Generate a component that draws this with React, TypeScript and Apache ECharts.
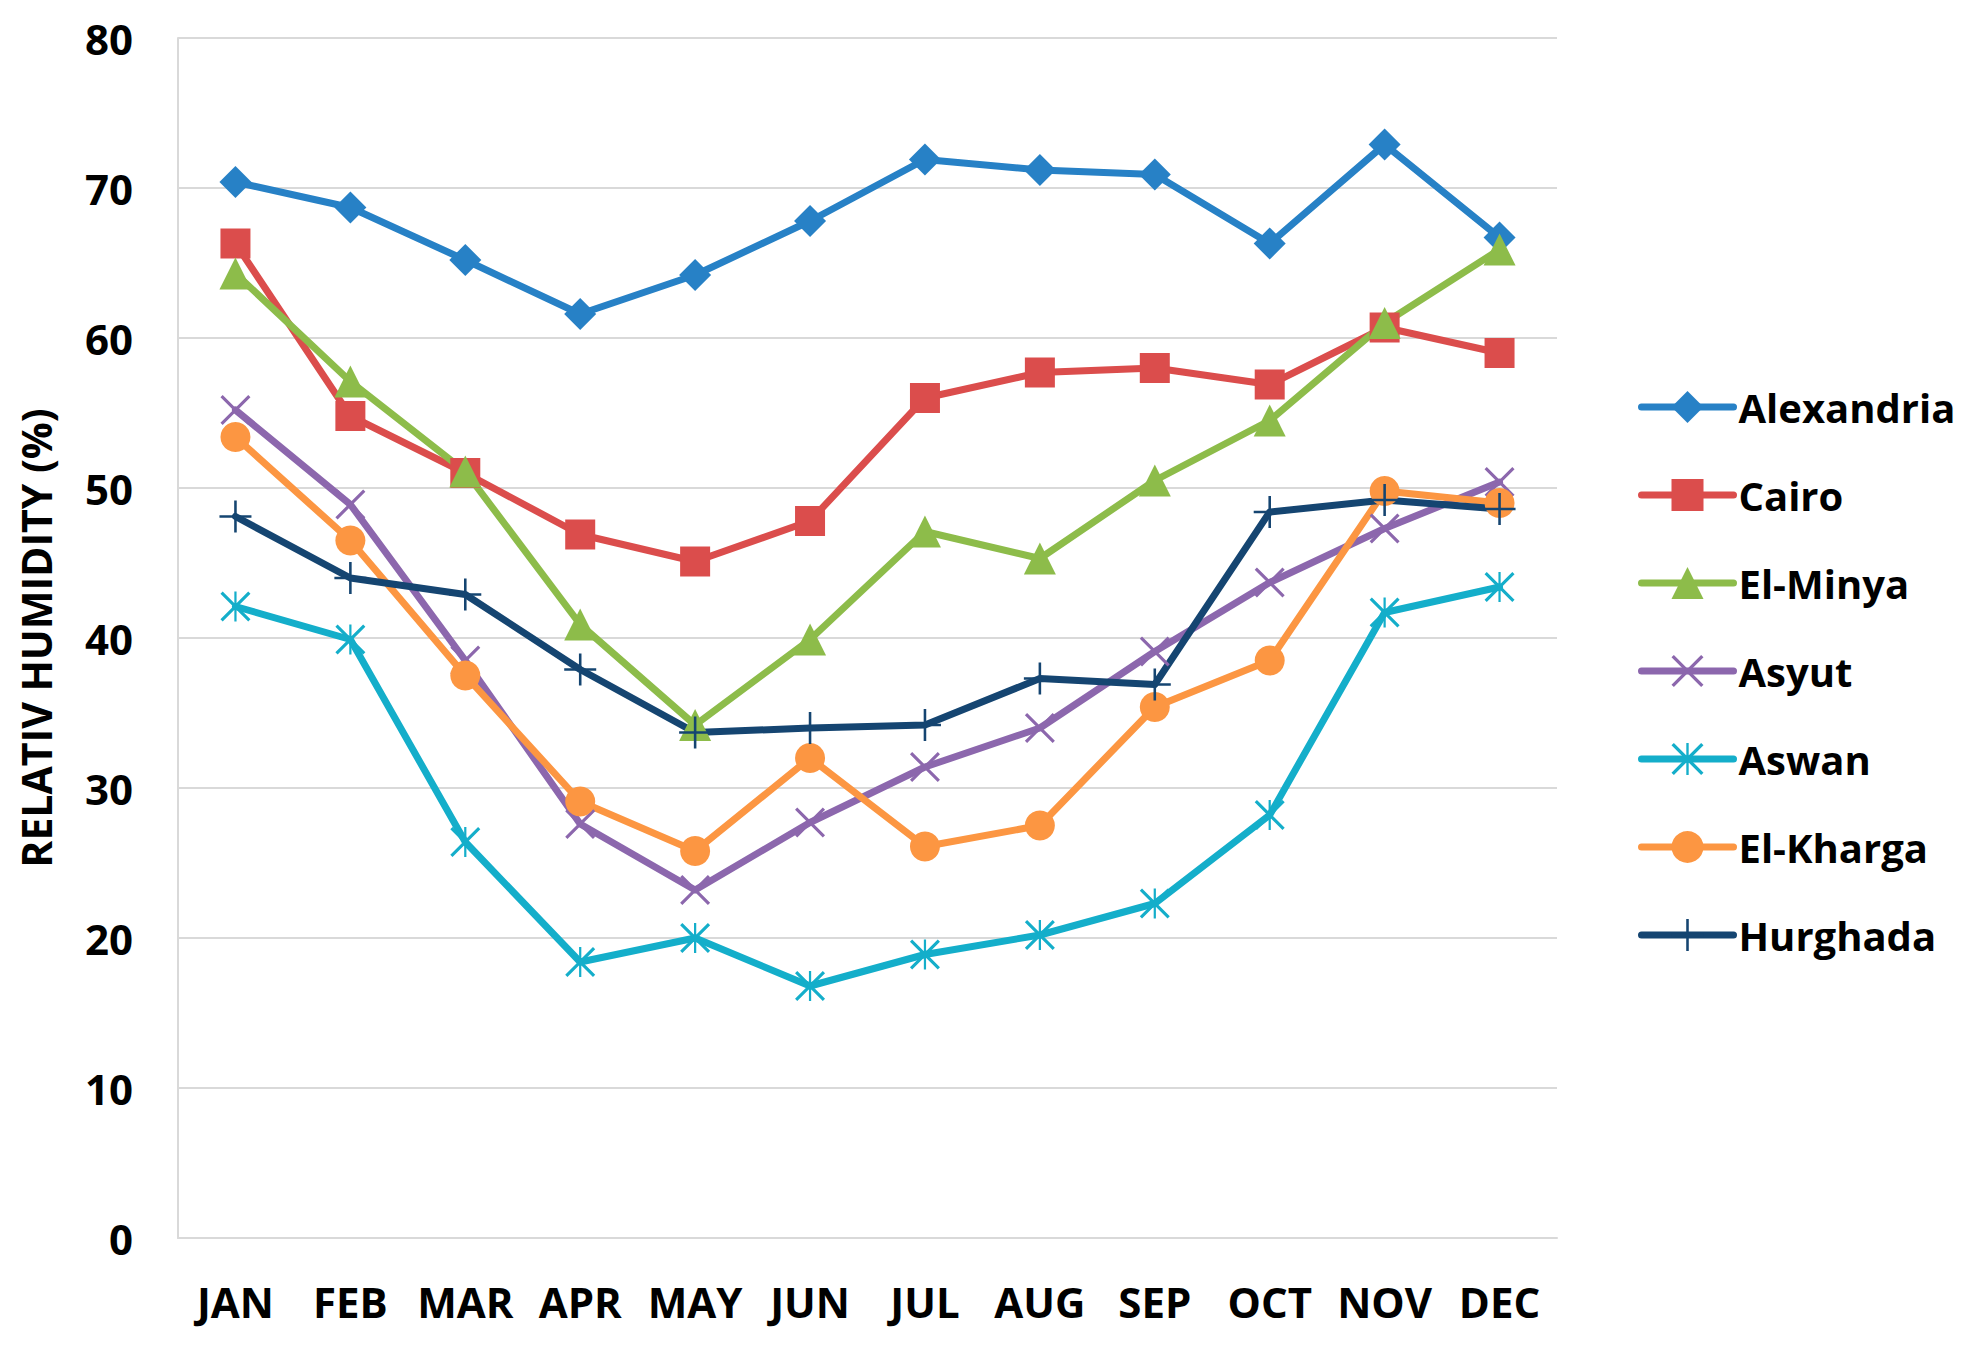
import React, { useEffect, useRef } from "react";
import * as echarts from "echarts";

const months = ["JAN", "FEB", "MAR", "APR", "MAY", "JUN", "JUL", "AUG", "SEP", "OCT", "NOV", "DEC"];
const yTicks = [0, 10, 20, 30, 40, 50, 60, 70, 80];

const alexandria = [70.4, 68.7, 65.2, 61.6, 64.2, 67.8, 71.9, 71.2, 70.9, 66.3, 72.9, 66.7];
const cairo = [66.3, 54.8, 51.0, 46.9, 45.1, 47.8, 56.0, 57.7, 58.0, 56.9, 60.7, 59.0];
const elMinya = [64.3, 57.1, 51.1, 40.9, 34.2, 39.9, 47.1, 45.3, 50.5, 54.5, 61.0, 65.9];
const asyut = [55.2, 48.9, 38.5, 27.6, 23.2, 27.7, 31.4, 34.0, 39.1, 43.7, 47.3, 50.4];
const aswan = [42.1, 39.9, 26.4, 18.4, 20.0, 16.8, 18.9, 20.2, 22.3, 28.2, 41.7, 43.4];
const elKharga = [53.4, 46.5, 37.5, 29.1, 25.8, 32.0, 26.1, 27.5, 35.4, 38.5, 49.8, 49.0];
const hurghada = [48.1, 44.0, 42.9, 37.9, 33.7, 34.0, 34.2, 37.3, 36.9, 48.4, 49.2, 48.6];

const seriesNames = ["Alexandria", "Cairo", "El-Minya", "Asyut", "Aswan", "El-Kharga", "Hurghada"];
const seriesData = [alexandria, cairo, elMinya, asyut, aswan, elKharga, hurghada];
const seriesColors = ["#2781C6", "#DB4D4C", "#8DBC4A", "#8C67AD", "#14AECA", "#FC9642", "#154571"];

const X_PATH = "path://M4,-4 L104,96 L96,104 L-4,4 Z M104,4 L4,104 L-4,96 L96,-4 Z";
const STAR_PATH = "path://M4,-4 L104,96 L96,104 L-4,4 Z M104,4 L4,104 L-4,96 L96,-4 Z M46,-4 L54,-4 L54,104 L46,104 Z";
const PLUS_PATH = "path://M46,0 L54,0 L54,100 L46,100 Z M0,46 L100,46 L100,54 L0,54 Z";

const seriesSymbols = ["diamond", "rect", "triangle", X_PATH, STAR_PATH, "circle", PLUS_PATH];
const seriesSymbolSizes = [32, 30, 32, 30, 30, 30, 32];

const FONT = "'Open Sans', 'DejaVu Sans', sans-serif";

export default function App() {
  const ref = useRef<HTMLDivElement>(null);

  useEffect(() => {
    if (!ref.current) return;
    const chart = echarts.init(ref.current, null, { renderer: "svg" });
    const option: any = {
      animation: false,
      backgroundColor: "#ffffff",
      grid: { left: 178, top: 38, right: 417, bottom: 110, containLabel: false },
      legend: {
        orient: "vertical",
        left: 1633,
        top: 381,
        itemWidth: 92,
        itemHeight: 40,
        itemGap: 46,
        data: seriesNames,
        lineStyle: { width: 7, cap: "round" },
        textStyle: {
          fontFamily: FONT,
          fontWeight: "bold",
          fontSize: 40,
          lineHeight: 42,
          color: "#000000",
        },
      },
      xAxis: {
        type: "category",
        data: months,
        boundaryGap: true,
        axisLine: { show: true, lineStyle: { color: "#D9D9D9", width: 2 } },
        axisTick: { show: false },
        axisLabel: {
          margin: 42,
          fontFamily: FONT,
          fontWeight: "bold",
          fontSize: 42,
          color: "#000000",
          interval: 0,
        },
        splitLine: { show: false },
      },
      yAxis: {
        type: "value",
        min: yTicks[0],
        max: yTicks[yTicks.length - 1],
        interval: 10,
        name: "RELATIV HUMIDITY (%)",
        nameLocation: "middle",
        nameGap: 122,
        nameRotate: 90,
        nameTextStyle: {
          fontFamily: FONT,
          fontWeight: "bold",
          fontSize: 41,
          color: "#000000",
        },
        axisLine: { show: true, lineStyle: { color: "#D9D9D9", width: 2 } },
        axisTick: { show: false },
        axisLabel: {
          margin: 45,
          fontFamily: FONT,
          fontWeight: "bold",
          fontSize: 42,
          color: "#000000",
        },
        splitLine: { show: true, lineStyle: { color: "#D9D9D9", width: 2 } },
      },
      series: seriesNames.map((name, i) => ({
        name,
        type: "line",
        data: seriesData[i],
        symbol: seriesSymbols[i],
        symbolSize: seriesSymbolSizes[i],
        showAllSymbol: true,
        color: seriesColors[i],
        lineStyle: { color: seriesColors[i], width: 7, cap: "round", join: "round" },
        itemStyle: { color: seriesColors[i] },
        emphasis: { disabled: true },
      })),
    };
    chart.setOption(option);
    return () => {
      chart.dispose();
    };
  }, []);

  return (
    <div
      ref={ref}
      style={{ position: "fixed", left: 0, top: 0, width: 1974, height: 1348, background: "#fff" }}
    />
  );
}
